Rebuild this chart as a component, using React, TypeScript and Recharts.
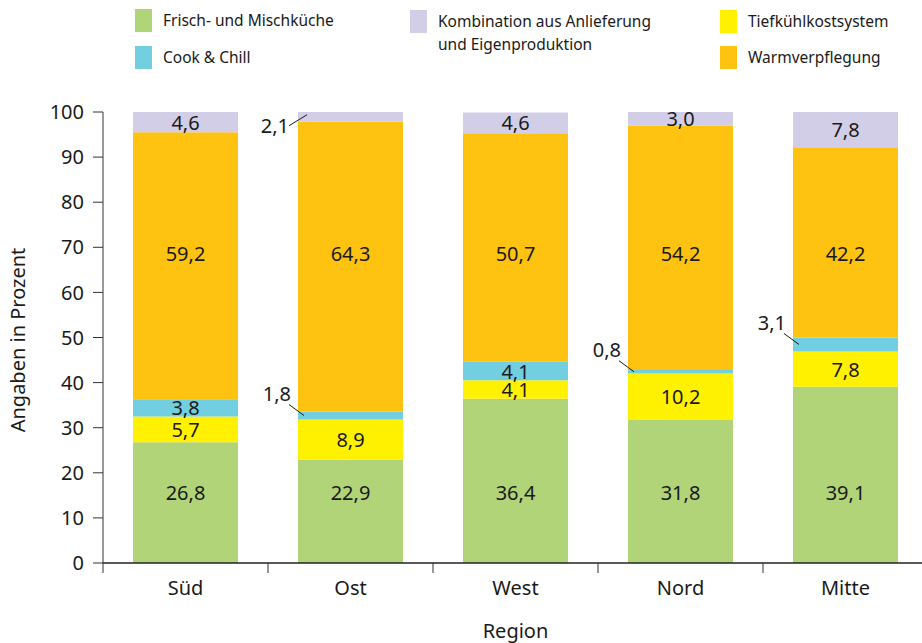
import { BarChart, Bar, XAxis, YAxis, LabelList, Label } from 'recharts';

const regions = ['Süd', 'Ost', 'West', 'Nord', 'Mitte'];
const frischMisch = [26.8, 22.9, 36.4, 31.8, 39.1];
const tiefkuehl = [5.7, 8.9, 4.1, 10.2, 7.8];
const cookChill = [3.8, 1.8, 4.1, 0.8, 3.1];
const warm = [59.2, 64.3, 50.7, 54.2, 42.2];
const kombination = [4.6, 2.1, 4.6, 3.0, 7.8];
const yTicks = [0, 10, 20, 30, 40, 50, 60, 70, 80, 90, 100];

const data = regions.map((region, i) => ({
  region,
  frisch: frischMisch[i],
  tiefkuehl: tiefkuehl[i],
  cook: cookChill[i],
  warm: warm[i],
  kombi: kombination[i],
}));

const COLORS = {
  frisch: '#b1d479',
  tiefkuehl: '#fff100',
  cook: '#72cee1',
  warm: '#fec211',
  kombi: '#d2cee7',
};

const FONT = '"Noto Sans", sans-serif';
const INK = '#1a1a1a';
const TOP = 112;
const BOTTOM = 563;
const LEFT = 103;
const CHART_W = 930;
const CHART_H = 643;
const RIGHT_MARGIN = 2;
const BAND = (CHART_W - RIGHT_MARGIN - LEFT) / regions.length;

const yPx = (v: number) => BOTTOM - (v * (BOTTOM - TOP)) / 100;
const fmt = (v: number) => v.toFixed(1).replace('.', ',');

// the big segments are labelled on one common line: the mean of their midpoints
const sumAt = (lists: number[][], i: number) => lists.reduce((s, l) => s + l[i], 0);
const meanMid = (below: number[][], values: number[]) =>
  values.reduce((s, v, i) => s + sumAt(below, i) + v / 2, 0) / values.length;

const frischLabelY = yPx(meanMid([], frischMisch));
const warmLabelY = yPx(meanMid([frischMisch, tiefkuehl, cookChill], warm));

const valueText = (x: number, y: number, v: number, anchor = 'middle') => (
  <text
    x={x}
    y={y}
    textAnchor={anchor}
    dominantBaseline="central"
    fontFamily={FONT}
    fontSize={20}
    fill={INK}
  >
    {fmt(v)}
  </text>
);

const fixedLabel = (labelY: number) => (props: any) => {
  const x = Number(props.x);
  const w = Number(props.width);
  return valueText(x + w / 2, labelY, Number(props.value));
};

const centerLabel = (props: any) => {
  const x = Number(props.x);
  const y = Number(props.y);
  return valueText(x + Number(props.width) / 2, y + Number(props.height) / 2, Number(props.value));
};

// small cook & chill shares get a leader line to a label left of the bar
const cookLabel = (props: any) => {
  const value = Number(props.value);
  if (value >= 3.5) return centerLabel(props);
  const x = Number(props.x);
  const midY = Number(props.y) + Number(props.height) / 2;
  return (
    <g>
      <line x1={x - 9} y1={midY - 11} x2={x + 6} y2={midY} stroke={INK} strokeWidth={1} />
      {valueText(x - 7, midY - 22, value, 'end')}
    </g>
  );
};

const kombiLabel = (props: any) => {
  const value = Number(props.value);
  if (value >= 2.5) return centerLabel(props);
  const x = Number(props.x);
  const midY = Number(props.y) + Number(props.height) / 2;
  return (
    <g>
      <line x1={x - 9} y1={midY + 9} x2={x + 9} y2={midY - 2} stroke={INK} strokeWidth={1} />
      {valueText(x - 9, midY + 8.5, value, 'end')}
    </g>
  );
};

// tick marks sit between the categories, labels in the middle
const RegionTick = (props: any) => {
  const x = Number(props.x);
  const edge = x - BAND / 2;
  return (
    <g>
      <line x1={edge} y1={BOTTOM} x2={edge} y2={BOTTOM + 10} stroke="#333" strokeWidth={1} />
      <text
        x={x}
        y={BOTTOM + 24}
        textAnchor="middle"
        dominantBaseline="central"
        fontFamily={FONT}
        fontSize={20}
        fill={INK}
      >
        {props.payload.value}
      </text>
    </g>
  );
};

const legendItems = [
  { text: ['Frisch- und Mischküche'], color: COLORS.frisch, left: 135, top: 9 },
  { text: ['Cook & Chill'], color: COLORS.cook, left: 135, top: 46 },
  {
    text: ['Kombination aus Anlieferung', 'und Eigenproduktion'],
    color: COLORS.kombi,
    left: 410,
    top: 10,
  },
  { text: ['Tiefkühlkostsystem'], color: COLORS.tiefkuehl, left: 720, top: 10 },
  { text: ['Warmverpflegung'], color: COLORS.warm, left: 720, top: 46 },
];

const ChartLegend = () => (
  <>
    {legendItems.map((item) => (
      <div key={item.text[0]}>
        <div
          style={{
            position: 'absolute',
            left: item.left,
            top: item.top,
            width: 17,
            height: 23,
            background: item.color,
          }}
        />
        <div
          style={{
            position: 'absolute',
            left: item.left + 28,
            top: item.top,
            fontSize: 15.5,
            lineHeight: '23px',
            color: INK,
            whiteSpace: 'nowrap',
          }}
        >
          {item.text.map((t) => (
            <div key={t}>{t}</div>
          ))}
        </div>
      </div>
    ))}
  </>
);

export default function App() {
  return (
    <div
      style={{
        position: 'absolute',
        left: 0,
        top: 0,
        width: 922,
        height: 643,
        overflow: 'hidden',
        background: '#fff',
        fontFamily: FONT,
      }}
    >
      <BarChart
        width={CHART_W}
        height={CHART_H}
        data={data}
        margin={{ top: TOP, right: RIGHT_MARGIN, bottom: 0, left: 0 }}
      >
        <XAxis
          dataKey="region"
          height={CHART_H - BOTTOM}
          interval={0}
          axisLine={{ stroke: '#222', strokeWidth: 1.5 }}
          tickLine={false}
          tick={<RegionTick />}
        >
          <Label
            content={() => (
              <text
                x={LEFT + (CHART_W - RIGHT_MARGIN - LEFT) / 2}
                y={630}
                textAnchor="middle"
                dominantBaseline="central"
                fontFamily={FONT}
                fontSize={20}
                fill={INK}
              >
                Region
              </text>
            )}
          />
        </XAxis>
        <YAxis
          width={LEFT}
          domain={[0, 100]}
          ticks={yTicks}
          allowDataOverflow
          tickSize={10}
          tickMargin={9}
          axisLine={{ stroke: '#333' }}
          tickLine={{ stroke: '#333' }}
          tick={{ fontSize: 20, fill: INK, fontFamily: FONT }}
        >
          <Label
            content={() => (
              <text
                x={17}
                y={340}
                transform="rotate(-90 17 340)"
                textAnchor="middle"
                dominantBaseline="central"
                fontFamily={FONT}
                fontSize={20}
                fill={INK}
              >
                Angaben in Prozent
              </text>
            )}
          />
        </YAxis>
        <Bar dataKey="frisch" stackId="a" fill={COLORS.frisch} barSize={105} isAnimationActive={false}>
          <LabelList dataKey="frisch" content={fixedLabel(frischLabelY)} />
        </Bar>
        <Bar dataKey="tiefkuehl" stackId="a" fill={COLORS.tiefkuehl} barSize={105} isAnimationActive={false}>
          <LabelList dataKey="tiefkuehl" content={centerLabel} />
        </Bar>
        <Bar dataKey="cook" stackId="a" fill={COLORS.cook} barSize={105} isAnimationActive={false}>
          <LabelList dataKey="cook" content={cookLabel} />
        </Bar>
        <Bar dataKey="warm" stackId="a" fill={COLORS.warm} barSize={105} isAnimationActive={false}>
          <LabelList dataKey="warm" content={fixedLabel(warmLabelY)} />
        </Bar>
        <Bar dataKey="kombi" stackId="a" fill={COLORS.kombi} barSize={105} isAnimationActive={false}>
          <LabelList dataKey="kombi" content={kombiLabel} />
        </Bar>
      </BarChart>
      <ChartLegend />
    </div>
  );
}
